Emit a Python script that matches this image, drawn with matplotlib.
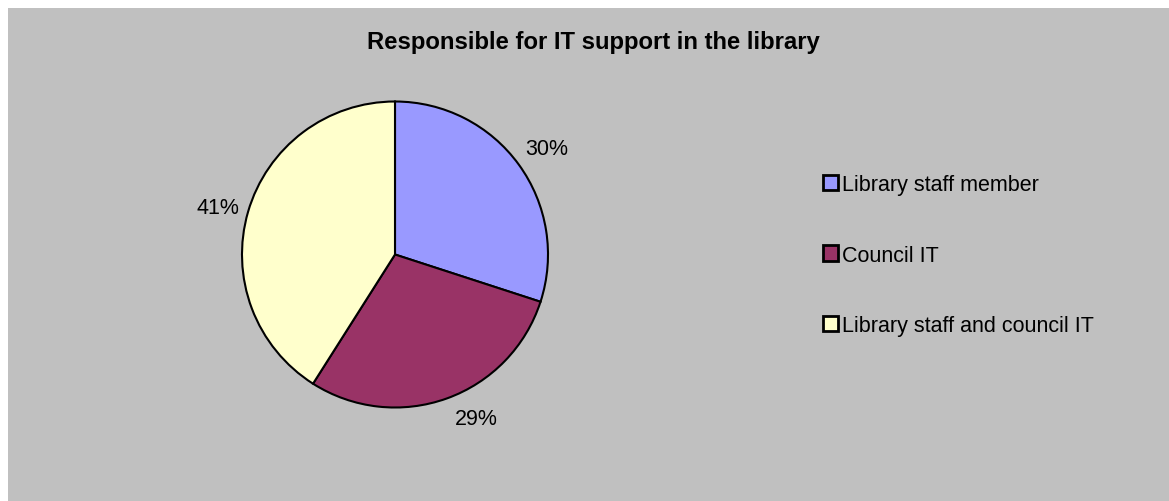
import matplotlib.pyplot as plt
from matplotlib.patches import Rectangle

plt.rcParams["font.family"] = ["Liberation Sans", "DejaVu Sans"]

title = "Responsible for IT support in the library"
categories = ["Library staff member", "Council IT", "Library staff and council IT"]
shares = [30, 29, 41]
colors = ["#9999FF", "#993366", "#FFFFCC"]
# label positions (pie data units), as Excel places them
label_pos = [(0.99, 0.69), (0.53, -1.075), (-1.16, 0.31)]

W, H = 1169, 502
fig = plt.figure(figsize=(W / 100, H / 100), dpi=100)

# gray chart area
fig.patches.append(
    Rectangle((8 / W, 0), 1 - 8 / W, 1 - 9 / H, transform=fig.transFigure,
              facecolor="#C0C0C0", edgecolor="none", zorder=-1)
)

cx, cy, r = 395, H - 255.5, 153
ax = fig.add_axes([(cx - r) / W, (cy - r) / H, 2 * r / W, 2 * r / H])
ax.axis("off")
wedges, _ = ax.pie(
    shares,
    colors=colors,
    startangle=90,
    counterclock=False,
    wedgeprops=dict(edgecolor="black", linewidth=1.5),
)
ax.set_xlim(-1, 1)
ax.set_ylim(-1, 1)
ax.set_aspect("equal")

for val, (x, y) in zip(shares, label_pos):
    ax.text(x, y, f"{val}%", ha="center", va="center", fontsize=15.5, clip_on=False)

fig.text(593 / W, 1 - 42 / H, title, ha="center", va="center",
         fontsize=17.2, fontweight="bold")

leg = fig.legend(
    wedges, categories,
    loc="upper left",
    bbox_to_anchor=(823 / W, 1 - 175 / H),
    frameon=False,
    fontsize=15.5,
    handlelength=0.7,
    handleheight=0.7,
    handletextpad=0.2,
    labelspacing=2.3,
    borderpad=0,
    borderaxespad=0,
)
for h in leg.legend_handles:
    h.set_linewidth(2)

fig.savefig("out.png", dpi=100)
